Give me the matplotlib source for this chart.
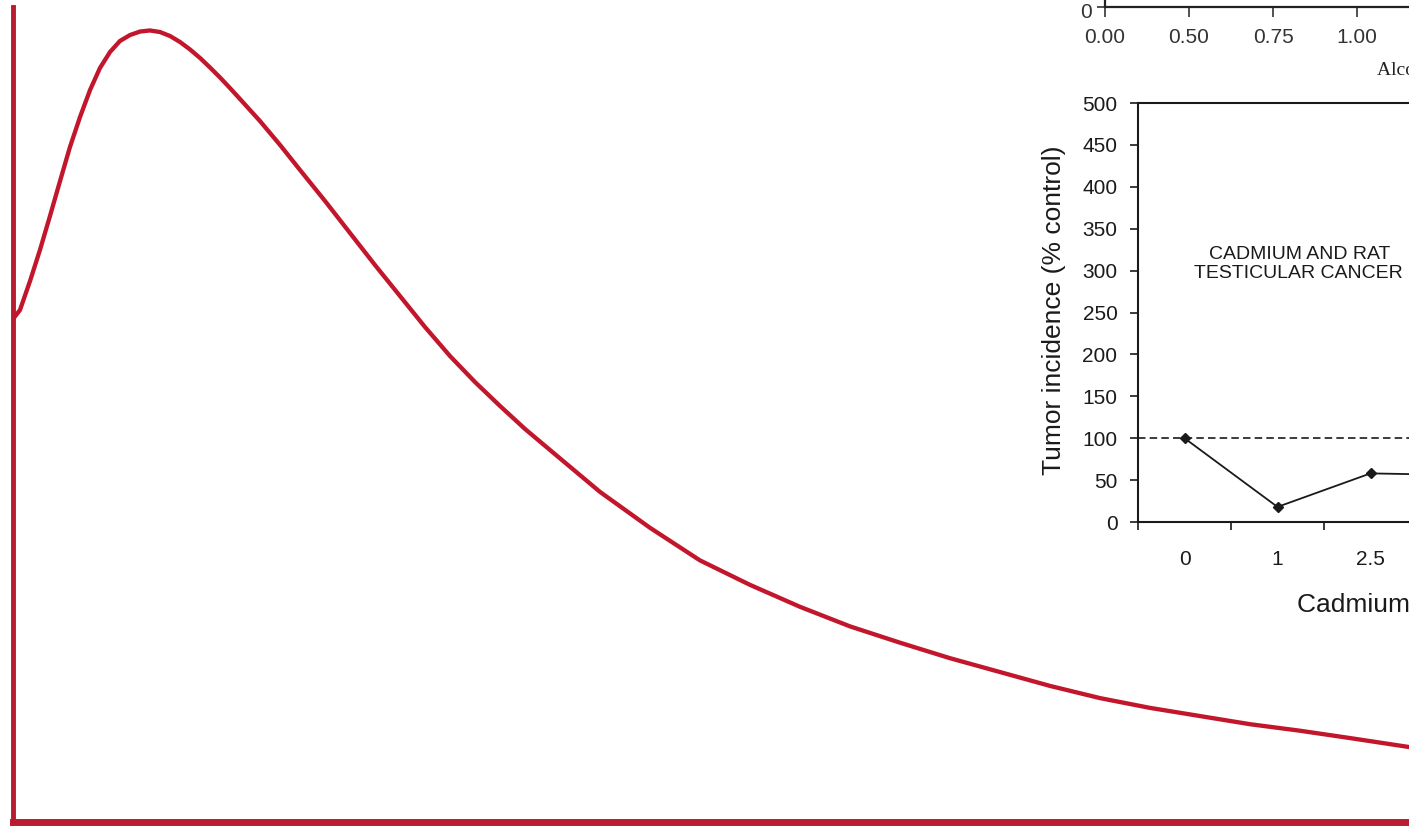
import matplotlib
matplotlib.use("Agg")
import matplotlib.pyplot as plt
from matplotlib.transforms import ScaledTranslation

plt.rcParams['font.family'] = ['Liberation Sans', 'DejaVu Sans']

# ---- main hormetic curve (arbitrary units, 0-100) ----
dose = [0.00, 0.50, 1.22, 1.93, 2.65, 3.37, 4.08, 4.80, 5.52, 6.23,
        6.95, 7.66, 8.38, 9.10, 9.81, 10.53, 11.25, 11.96, 12.68, 13.40,
        14.11, 14.83, 15.54, 16.26, 17.69, 19.13, 20.56, 22.35, 24.14,
        25.93, 27.72, 29.51, 31.30, 33.09, 34.89, 36.68, 38.47, 42.05,
        45.63, 49.21, 52.79, 56.38, 59.96, 63.54, 67.12, 70.70, 74.28,
        77.87, 81.45, 85.03, 88.61, 92.19, 95.77, 100.0]
response = [61.72, 62.82, 66.38, 70.18, 74.36, 78.65, 82.82, 86.50, 89.82, 92.52,
            94.48, 95.83, 96.56, 96.99, 97.12, 96.93, 96.44, 95.71, 94.79, 93.74,
            92.58, 91.35, 90.06, 88.71, 86.01, 83.07, 80.00, 76.20, 72.27,
            68.34, 64.54, 60.74, 57.18, 53.99, 51.04, 48.22, 45.64, 40.5,
            36.1, 32.1, 29.1, 26.4, 24.0, 22.0, 20.1, 18.4, 16.7,
            15.2, 14.0, 13.0, 12.0, 11.2, 10.3, 9.2]

# ---- inset: cadmium and rat testicular cancer ----
cad_labels = ["0", "1", "2.5", "5"]
cad_values = [100, 18, 58, 56]
control_level = 100
cad_yticks = list(range(0, 501, 50))

# ---- partial chart above (alcohol) ----
alc_labels = ["0.00", "0.50", "0.75", "1.00", "1.25"]

W, H = 1409, 826
def fx(px):
    return px / W
def fy(py):
    return 1 - py / H

fig = plt.figure(figsize=(14.09, 8.26), dpi=100)
fig.patch.set_facecolor('white')

# main axes
ax = fig.add_axes([fx(13), fy(822), (1409 - 13) / W, (822 - 7) / H])
ax.plot(dose, response, color='#c2162c', lw=3.1,
        solid_capstyle='round', solid_joinstyle='round', zorder=3)
ax.set_xlim(0, 100)
ax.set_ylim(0, 100)
ax.set_xticks([])
ax.set_yticks([])
for s in ['top', 'right']:
    ax.spines[s].set_visible(False)
ax.spines['left'].set_color('#b81c2e')
ax.spines['left'].set_linewidth(3.5)
ax.spines['bottom'].set_color('#b81c2e')
ax.spines['bottom'].set_linewidth(5)

ink = '#1a1a1a'

# cadmium inset
cax = fig.add_axes([fx(1138), fy(522), 372 / W, 419 / H])
cax.set_facecolor('none')
xpos = list(range(len(cad_labels)))
cax.axhline(control_level, color=ink, lw=1.2, ls=(0, (4.5, 2.5)), zorder=2)
cax.plot(xpos, cad_values, color=ink, lw=1.3, marker='D', ms=5,
         zorder=3, clip_on=False)
cax.set_xlim(-0.5, len(cad_labels) - 0.5)
cax.set_ylim(0, 500)
cax.set_yticks(cad_yticks)
cax.set_xticks(xpos)
cax.set_xticklabels(cad_labels)
cax.set_xticks([p - 0.5 for p in xpos], minor=True)
cax.tick_params(axis='x', which='major', length=0, pad=20, labelsize=15,
                labelcolor=ink)
cax.tick_params(axis='x', which='minor', length=5.8, width=1.2,
                direction='out', color=ink)
cax.tick_params(axis='y', length=5.8, width=1.2, pad=9, labelsize=15,
                direction='out', color=ink, labelcolor=ink)
for s in cax.spines.values():
    s.set_color(ink)
    s.set_linewidth(1.5)

fig.text(fx(1054), fy(310.5), "Tumor incidence (% control)", rotation=90,
         ha='center', va='center', fontsize=19, color=ink)
fig.text(fx(1297), fy(612), "Cadmium (mg/kg)", ha='left', va='baseline',
         fontsize=19, color=ink)
fig.text(fx(1300), fy(259), "CADMIUM AND RAT", ha='center', va='baseline',
         fontsize=14, color=ink)
fig.text(fx(1298), fy(278), "TESTICULAR CANCER", ha='center', va='baseline',
         fontsize=14, color=ink)

# alcohol axes (partially visible at top)
aax = fig.add_axes([fx(1105), fy(7), 336 / W, 0.3])
aax.set_facecolor('none')
aax.set_xlim(0, len(alc_labels) - 1)
aax.set_ylim(0, 10)
aax.set_yticks([0])
aax.set_yticklabels(["0"])
aax.set_xticks(range(len(alc_labels)))
aax.set_xticklabels(alc_labels)
aax.tick_params(axis='x', length=7, width=1.2, pad=8, labelsize=15,
                direction='out', color='#333333', labelcolor='#333333')
aax.tick_params(axis='y', length=5.8, width=1.2, pad=3.6, labelsize=15,
                direction='out', color='#333333', labelcolor='#333333')
shift = ScaledTranslation(0, -0.035, fig.dpi_scale_trans)
for lbl in aax.get_yticklabels():
    lbl.set_transform(lbl.get_transform() + shift)
for s in aax.spines.values():
    s.set_color('#222222')
    s.set_linewidth(1.6)
fig.text(fx(1377), fy(75), "Alcohol (g/kg)", ha='left', va='baseline',
         fontsize=14, family=['Liberation Serif', 'DejaVu Serif'],
         color='#222222')

fig.savefig('out.png', dpi=100, facecolor='white')
